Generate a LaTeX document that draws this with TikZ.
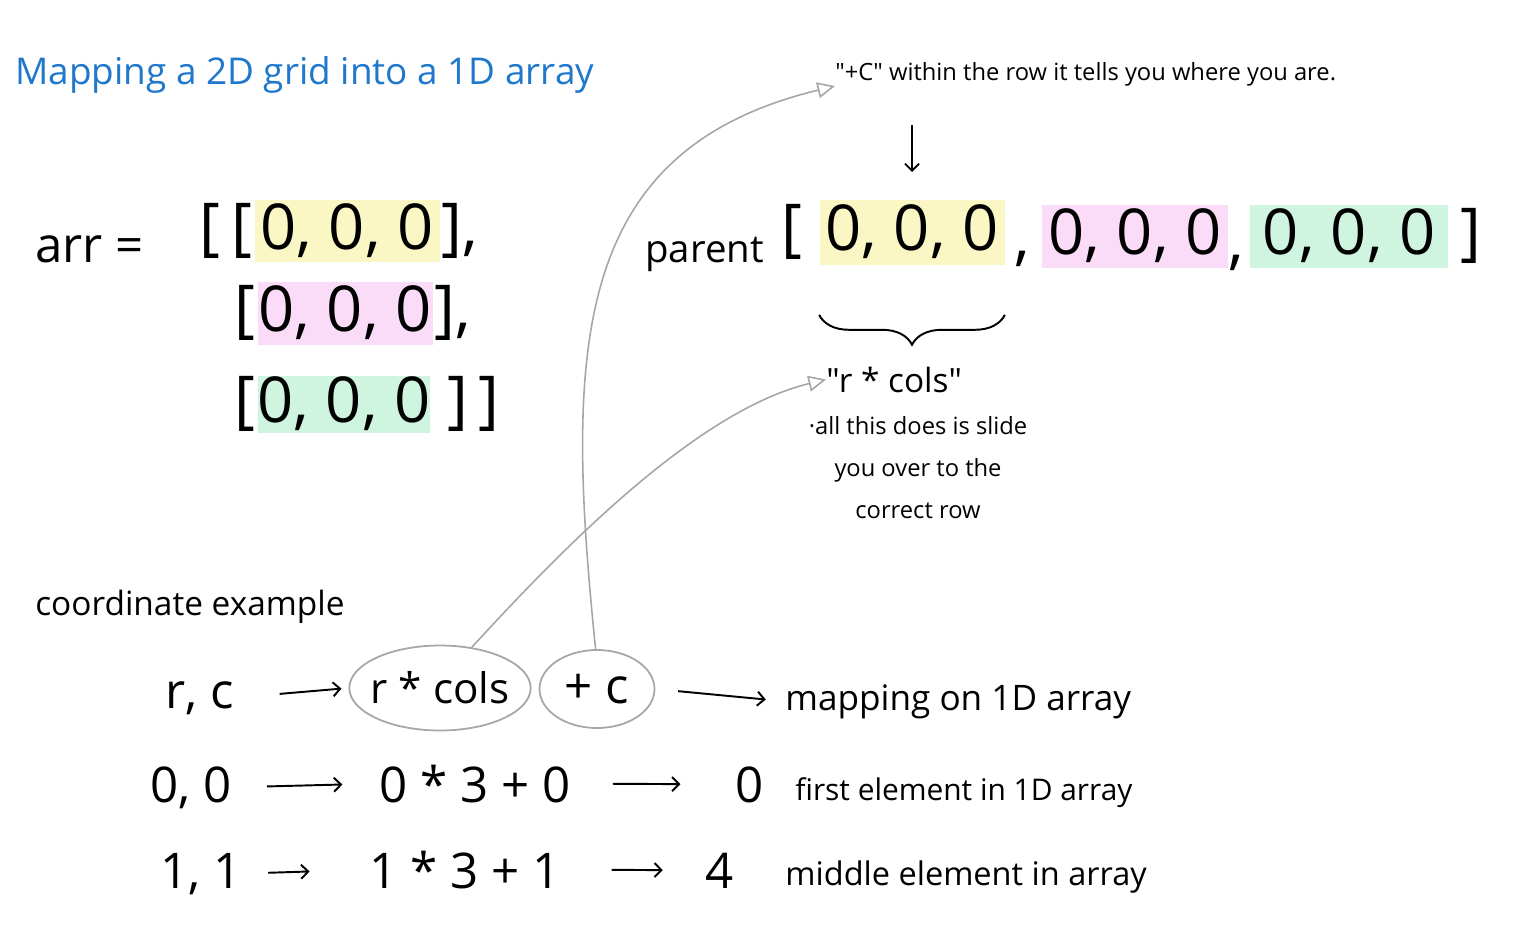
\documentclass[tikz,border=0pt]{standalone}
\usepackage{fontspec}
\setmainfont{Open Sans}[Ligatures=TeXOff]
\usetikzlibrary{arrows.meta,positioning,calc,shapes.geometric,decorations.pathreplacing}
\definecolor{InkBlue}{HTML}{1F78CC}
\definecolor{HiYellow}{HTML}{FAF7C4}
\definecolor{HiPink}{HTML}{FADCF8}
\definecolor{HiGreen}{HTML}{CFF4DF}
\definecolor{PenGrey}{HTML}{A6A6A6}
\newcommand\zerofont{\fontsize{36}{40}\selectfont}
\newcommand\headfont{\fontsize{21}{25}\selectfont}
\newcommand\rowfont{\fontsize{28}{32}\selectfont}
\newcommand\loopfont{\fontsize{24}{28}\selectfont}
\newcommand\wordfont{\fontsize{19}{23}\selectfont}
\newcommand\notefont{\fontsize{13.5}{24}\selectfont}

\begin{document}
\begin{tikzpicture}[x=0.2mm,y=-0.2mm,
    hl/.style={inner sep=0pt,font=\zerofont},
    txt/.style={anchor=base west,inner sep=0pt},
    brk/.style={inner sep=1pt,font=\zerofont},
    loop/.style={draw=PenGrey,ellipse,line width=1pt,inner sep=-3pt,font=\loopfont},
    pointer/.style={PenGrey,line width=0.9pt,-{Triangle[open,length=10pt,width=9pt]}},
    stroke/.style={line width=1.1pt,-{Straight Barb[length=4pt,width=8pt]}}]
        \useasboundingbox (0,0) rectangle (1513,939);
        \fill[white] (0,0) rectangle (1513,939);
        % title
        \node[txt,font=\headfont,text=InkBlue] (title) at (15,84) {Mapping a 2D grid into a 1D array};
        % the 2D grid
        \node[txt,font=\rowfont] (arr) at (35,262) {arr =};
        \node[hl,fill=HiYellow,minimum width=37mm,minimum height=12.4mm] (gy) at (347,231) {0, 0, 0};
        \node[hl,fill=HiPink,minimum width=35mm,minimum height=12.6mm] (gp) at (345,313) {0, 0, 0};
        \node[hl,fill=HiGreen,minimum width=34.4mm,minimum height=11.4mm] (gg) at (344,404) {0, 0, 0};
        \node[brk,anchor=east] (gyl) at (gy.west) {[\,[};
        \node[brk,anchor=west] (gyr) at (gy.east) {],};
        \node[brk,anchor=east] (gpl) at (gp.west) {[};
        \node[brk,anchor=west] (gpr) at (gp.east) {],};
        \node[brk,anchor=east] (ggl) at (gg.west) {[};
        \node[brk,anchor=west] (ggr) at ([xshift=3mm]gg.east) {]\,]};
        % the 1D array
        \node[txt,font=\wordfont,scale=1.15] (parent) at (645,262) {parent};
        \node[hl,fill=HiYellow,minimum width=37mm,minimum height=13mm] (py) at (912,232) {0, 0, 0};
        \node[hl,fill=HiPink,minimum width=37.2mm,minimum height=12.6mm] (pp) at (1135,236) {0, 0, 0};
        \node[hl,fill=HiGreen,minimum width=39.6mm,minimum height=12.6mm] (pg) at (1349,236) {0, 0, 0};
        \node[brk,anchor=east] (pl) at ([xshift=-3mm]py.west) {[};
        \node[brk,anchor=west] (pr) at ([xshift=2mm]pg.east) {]};
        \node[brk,anchor=base] (c1) at (1022,258) {,};
        \node[brk,anchor=base] (c2) at (1236,262) {,};
        % notes
        \node[txt,font=\notefont] (plusc) at (835,80) {"+C" within the row it tells you where you are.};
        \coordinate (dn) at (912,125);
        \draw[stroke] (dn) -- ++(0,47);
        \draw[line width=1.1pt,decorate,decoration={brace,mirror,amplitude=17pt}] ([yshift=-10mm]py.south west) -- ([yshift=-10mm]py.south east);
        \node[txt,font=\wordfont] (rcols) at (826,392) {"r * cols"};
        \node[font=\notefont,align=center,anchor=north] (slide) at (918,410) {·all this does is slide\\you over to the\\correct row};
        % coordinate example
        \node[txt,font=\wordfont] (coord) at (35,615) {coordinate example};
        \node[txt,font=\rowfont] (rc) at (165,708) {r, c};
        \node[loop,minimum width=33mm,minimum height=17mm] (e1) at (440,688) {r * cols};
        \node[loop,minimum width=23mm,minimum height=15.6mm,font=\rowfont] (e2) at (597,689) {+ c};
        \node[txt,font=\fontsize{20}{24}\selectfont] (map) at (785,710) {mapping on 1D array};
        \node[txt,font=\rowfont] (z0) at (150,802) {0, 0};
        \node[font=\rowfont,anchor=base,inner sep=0pt] (z1) at (475,802) {0 * 3 + 0};
        \node[txt,font=\rowfont] (z2) at (735,802) {0};
        \node[txt,font=\fontsize{17}{21}\selectfont] (z3) at (795,800) {first element in 1D array};
        \node[txt,font=\rowfont] (o0) at (160,888) {1, 1};
        \node[font=\rowfont,anchor=base,inner sep=0pt] (o1) at (465,888) {1 * 3 + 1};
        \node[txt,font=\rowfont] (o2) at (705,888) {4};
        \node[txt,font=\fontsize{18.5}{22}\selectfont] (o3) at (785,885) {middle element in array};
        \draw[stroke,shorten <=26pt,shorten >=4pt] (rc.east) -- (e1.west);
        \draw[stroke,shorten <=13pt,shorten >=11pt] (e2.east) -- (map.west);
        \draw[stroke,shorten <=20pt,shorten >=21pt] (z0.east) -- (z1.west);
        \draw[stroke,shorten <=24pt,shorten >=31pt] (z1.east) -- (z2.west);
        \draw[stroke,shorten <=15pt,shorten >=34pt] (o0.east) -- (o1.west);
        \draw[stroke,shorten <=29pt,shorten >=24pt] (o1.east) -- (o2.west);
        % pointers back to the notes
        \draw[pointer] (e1.52) .. controls (570,540) and (700,410) .. (rcols.west);
        \draw[pointer] (e2.92) .. controls (565,350) and (570,150) .. (plusc.south west);
\end{tikzpicture}
\end{document}
